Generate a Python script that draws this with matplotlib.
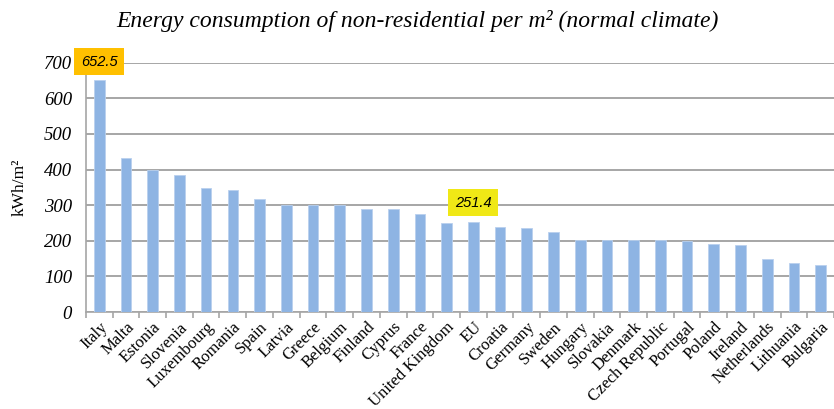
import numpy as np
import matplotlib.pyplot as plt

countries = ["Italy", "Malta", "Estonia", "Slovenia", "Luxembourg", "Romania", "Spain",
             "Latvia", "Greece", "Belgium", "Finland", "Cyprus", "France", "United Kingdom",
             "EU", "Croatia", "Germany", "Sweden", "Hungary", "Slovakia", "Denmark",
             "Czech Republic", "Portugal", "Poland", "Ireland", "Netherlands", "Lithuania",
             "Bulgaria"]
values = [652.5, 433, 400, 385, 349, 343, 318,
          301, 300, 300, 290, 290, 275, 250,
          251.4, 238, 236, 225, 203, 202, 202,
          202, 200, 191, 187, 150, 137, 131]
yticks = [0, 100, 200, 300, 400, 500, 600, 700]

# highlighted labels: (index, text, colour, label y)
callouts = [(0, "652.5", "#FFC000", 703), (14, "251.4", "#F0E816", 307)]

plt.rcParams['font.family'] = ['Liberation Serif', 'DejaVu Serif']

fig = plt.figure(figsize=(8.34, 4.09), dpi=100)
ax = fig.add_axes([0.103, 0.237, 0.897, 0.61])

x = np.arange(len(countries))
ax.bar(x, values, width=0.4, color="#8EB4E3", edgecolor="#B9D0EE", linewidth=0.6, zorder=3)

ax.set_xlim(-0.5, len(countries) - 0.5)
ax.set_ylim(0, 700)
ax.set_yticks(yticks)
ax.set_yticklabels([str(v) for v in yticks], fontsize=13.5, style='italic')
ax.tick_params(axis='y', length=0, pad=10)
ax.yaxis.grid(True, color="#A6A6A6", linewidth=1.4, zorder=0)

ax.set_xticks(x)
ax.set_xticklabels(countries, rotation=45, ha='right', rotation_mode='anchor', fontsize=12)
ax.set_xticks(np.arange(-0.5, len(countries), 1), minor=True)
ax.tick_params(axis='x', which='major', length=0, pad=5)
ax.tick_params(axis='x', which='minor', length=4, color="#A6A6A6", width=1.2)

for s in ['top', 'right']:
    ax.spines[s].set_visible(False)
ax.spines['left'].set_color("#A6A6A6")
ax.spines['bottom'].set_color("#A6A6A6")
ax.spines['left'].set_linewidth(1.2)
ax.spines['bottom'].set_linewidth(1.2)

ax.set_ylabel("kWh/m²", fontsize=12.5, labelpad=12)

for i, txt, col, ly in callouts:
    ax.text(i, ly, txt, ha='center', va='center', fontsize=10.5, style='italic',
            family=['Liberation Sans', 'DejaVu Sans'],
            bbox=dict(boxstyle='square,pad=0.45', fc=col, ec='none'),
            zorder=5, clip_on=False)

fig.suptitle("Energy consumption of non-residential per m² (normal climate)",
             fontsize=17, style='italic', x=0.5, y=0.975)

fig.savefig("out.png", dpi=100)
